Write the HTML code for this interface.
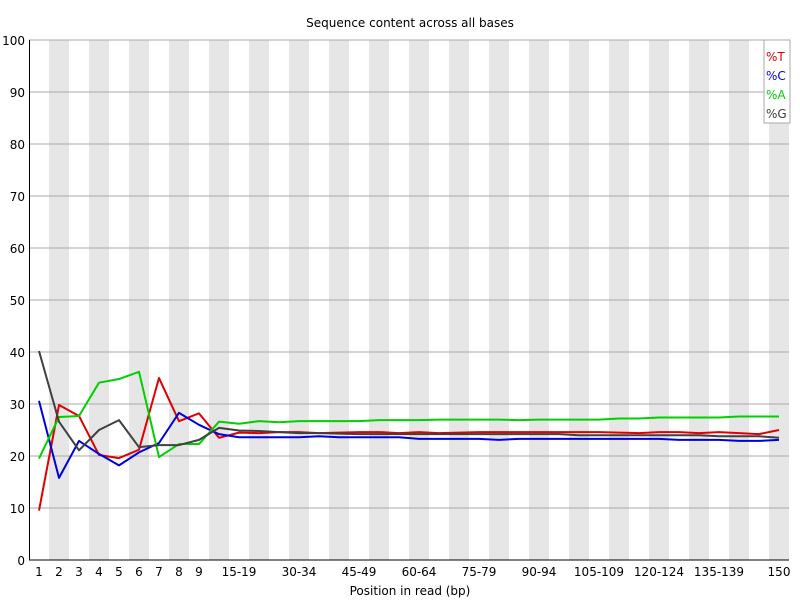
<!DOCTYPE html>
<html><head><meta charset="utf-8"><style>
body{margin:0;background:#fff;font-family:"DejaVu Sans","Liberation Sans",sans-serif}
svg{display:block}
text{font-family:"DejaVu Sans","Liberation Sans",sans-serif;font-size:12px}
</style></head><body>
<svg id="chart" width="800" height="600" xmlns="http://www.w3.org/2000/svg">
<text x="410" y="27" text-anchor="middle">Sequence content across all bases</text>
<text x="410" y="595" text-anchor="middle">Position in read (bp)</text>
</svg>
<script>
const categories=["1","2","3","4","5","6","7","8","9","10-14","15-19","20-24","25-29","30-34","35-39","40-44","45-49","50-54","55-59","60-64","65-69","70-74","75-79","80-84","85-89","90-94","95-99","100-104","105-109","110-114","115-119","120-124","125-129","130-134","135-139","140-144","145-149","150"];
const seriesT=[9.5,29.8,27.7,20.2,19.6,21.2,35.0,26.7,28.2,23.5,24.5,24.4,24.6,24.6,24.4,24.5,24.6,24.6,24.4,24.6,24.4,24.5,24.6,24.6,24.6,24.6,24.6,24.6,24.6,24.5,24.4,24.6,24.6,24.4,24.6,24.4,24.2,25.0];
const seriesC=[30.6,15.8,22.9,20.4,18.2,20.7,22.5,28.3,26.0,24.2,23.6,23.6,23.6,23.6,23.8,23.6,23.6,23.6,23.6,23.3,23.3,23.3,23.3,23.1,23.3,23.3,23.3,23.3,23.3,23.3,23.3,23.3,23.1,23.1,23.1,22.9,22.9,23.1];
const seriesA=[19.5,27.5,27.7,34.1,34.8,36.2,19.8,22.3,22.3,26.6,26.2,26.7,26.5,26.7,26.7,26.7,26.7,26.9,26.9,26.9,27.0,27.0,27.0,27.0,26.9,27.0,27.0,27.0,27.0,27.2,27.2,27.4,27.4,27.4,27.4,27.6,27.6,27.6];
const seriesG=[40.2,26.6,21.1,25.0,26.9,21.7,22.1,22.1,23.1,25.4,24.9,24.8,24.6,24.4,24.4,24.3,24.2,24.2,24.2,24.2,24.2,24.2,24.2,24.2,24.2,24.2,24.2,24.0,24.0,24.0,24.0,24.0,24.0,24.0,23.8,23.8,23.8,23.5];
const yTicks=[0,10,20,30,40,50,60,70,80,90,100];
const xLabelIdx=[0,1,2,3,4,5,6,7,8,10,13,16,19,22,25,28,31,34,37];
const NS="http://www.w3.org/2000/svg";
const svg=document.getElementById('chart');
const L=29,R=789,T=40,B=560;
const bw=(R-L)/categories.length;
const xs=i=>L+bw*i+bw/2;
const ys=v=>B-(v/100)*(B-T);
function mk(tag,attrs){const e=document.createElementNS(NS,tag);for(const k in attrs)e.setAttribute(k,attrs[k]);svg.appendChild(e);return e;}
categories.forEach((c,i)=>{if(i%2===1){const r=mk('rect',{x:L+bw*i,y:T,width:bw,height:B-T,fill:'#e6e6e6'});

}});
yTicks.forEach(v=>{const l=mk('line',{x1:L,x2:R,y1:ys(v),y2:ys(v),stroke:'#aaa','stroke-width':1});


const t=mk('text',{x:L-4,y:ys(v)+5,'text-anchor':'end'});t.textContent=v;

});
const ax=mk('line',{x1:L+0.5,x2:L+0.5,y1:T,y2:B,stroke:'#000','stroke-width':1});


const ax2=mk('line',{x1:L,x2:R,y1:B,y2:B,stroke:'#000','stroke-width':1});


xLabelIdx.forEach(i=>{const t=mk('text',{x:xs(i),y:576,'text-anchor':'middle'});t.textContent=categories[i];

});
const series=[['T',seriesT,'#e00000'],['C',seriesC,'#0000e0'],['A',seriesA,'#00d000'],['G',seriesG,'#404040']];
series.forEach(([n,d,col])=>{const p=mk('polyline',{points:d.map((v,i)=>xs(i)+','+ys(v)).join(' '),fill:'none',stroke:col,'stroke-width':2,'stroke-linejoin':'round'});

});
const lg=mk('rect',{x:764,y:40,width:26,height:83,fill:'#fff',stroke:'#aaa'});


series.forEach(([n,d,col],k)=>{const t=mk('text',{x:766,y:61+k*19,fill:col});t.textContent='%'+n;

});
</script>
</body></html>
